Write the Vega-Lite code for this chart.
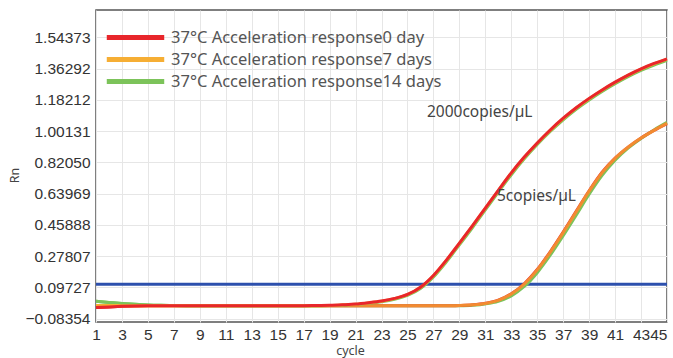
{
  "$schema": "https://vega.github.io/schema/vega-lite/v6.json",
  "width": 571,
  "height": 312,
  "autosize": "none",
  "padding": {"left": 96, "top": 10, "right": 6, "bottom": 36},
  "background": "white",
  "config": {
    "view": {"stroke": "#555555", "strokeWidth": 1.5},
    "font": "Liberation Sans",
    "axis": {"gridColor": "#e6e6e6", "gridWidth": 1, "domain": false, "ticks": false, "labelColor": "#333333", "labelFontSize": 15.5, "labelFont": "Liberation Sans", "titleFont": "Noto Sans", "titleFontWeight": "normal", "titleColor": "#444444", "titleFontSize": 12.5}
  },
  "data": {"values": [
    {"cycle":1,"day":"14 days","conc":"2000","rn":0.016},{"cycle":2,"day":"14 days","conc":"2000","rn":0.010},{"cycle":3,"day":"14 days","conc":"2000","rn":0.004},{"cycle":4,"day":"14 days","conc":"2000","rn":-0.001},{"cycle":5,"day":"14 days","conc":"2000","rn":-0.005},{"cycle":6,"day":"14 days","conc":"2000","rn":-0.007},{"cycle":7,"day":"14 days","conc":"2000","rn":-0.008},{"cycle":8,"day":"14 days","conc":"2000","rn":-0.009},{"cycle":9,"day":"14 days","conc":"2000","rn":-0.010},{"cycle":10,"day":"14 days","conc":"2000","rn":-0.010},{"cycle":11,"day":"14 days","conc":"2000","rn":-0.010},{"cycle":12,"day":"14 days","conc":"2000","rn":-0.010},{"cycle":13,"day":"14 days","conc":"2000","rn":-0.010},{"cycle":14,"day":"14 days","conc":"2000","rn":-0.010},{"cycle":15,"day":"14 days","conc":"2000","rn":-0.010},{"cycle":16,"day":"14 days","conc":"2000","rn":-0.010},{"cycle":17,"day":"14 days","conc":"2000","rn":-0.010},{"cycle":18,"day":"14 days","conc":"2000","rn":-0.009},{"cycle":19,"day":"14 days","conc":"2000","rn":-0.008},{"cycle":20,"day":"14 days","conc":"2000","rn":-0.006},{"cycle":21,"day":"14 days","conc":"2000","rn":-0.002},{"cycle":22,"day":"14 days","conc":"2000","rn":0.005},{"cycle":23,"day":"14 days","conc":"2000","rn":0.014},{"cycle":24,"day":"14 days","conc":"2000","rn":0.028},{"cycle":25,"day":"14 days","conc":"2000","rn":0.050},{"cycle":26,"day":"14 days","conc":"2000","rn":0.090},{"cycle":27,"day":"14 days","conc":"2000","rn":0.157},{"cycle":28,"day":"14 days","conc":"2000","rn":0.245},{"cycle":29,"day":"14 days","conc":"2000","rn":0.343},{"cycle":30,"day":"14 days","conc":"2000","rn":0.442},{"cycle":31,"day":"14 days","conc":"2000","rn":0.545},{"cycle":32,"day":"14 days","conc":"2000","rn":0.648},{"cycle":33,"day":"14 days","conc":"2000","rn":0.749},{"cycle":34,"day":"14 days","conc":"2000","rn":0.841},{"cycle":35,"day":"14 days","conc":"2000","rn":0.924},{"cycle":36,"day":"14 days","conc":"2000","rn":0.999},{"cycle":37,"day":"14 days","conc":"2000","rn":1.067},{"cycle":38,"day":"14 days","conc":"2000","rn":1.128},{"cycle":39,"day":"14 days","conc":"2000","rn":1.182},{"cycle":40,"day":"14 days","conc":"2000","rn":1.231},{"cycle":41,"day":"14 days","conc":"2000","rn":1.276},{"cycle":42,"day":"14 days","conc":"2000","rn":1.317},{"cycle":43,"day":"14 days","conc":"2000","rn":1.353},{"cycle":44,"day":"14 days","conc":"2000","rn":1.384},{"cycle":45,"day":"14 days","conc":"2000","rn":1.411},
    {"cycle":1,"day":"14 days","conc":"5","rn":0.016},{"cycle":2,"day":"14 days","conc":"5","rn":0.010},{"cycle":3,"day":"14 days","conc":"5","rn":0.004},{"cycle":4,"day":"14 days","conc":"5","rn":-0.001},{"cycle":5,"day":"14 days","conc":"5","rn":-0.005},{"cycle":6,"day":"14 days","conc":"5","rn":-0.007},{"cycle":7,"day":"14 days","conc":"5","rn":-0.008},{"cycle":8,"day":"14 days","conc":"5","rn":-0.009},{"cycle":9,"day":"14 days","conc":"5","rn":-0.010},{"cycle":10,"day":"14 days","conc":"5","rn":-0.010},{"cycle":11,"day":"14 days","conc":"5","rn":-0.010},{"cycle":12,"day":"14 days","conc":"5","rn":-0.010},{"cycle":13,"day":"14 days","conc":"5","rn":-0.010},{"cycle":14,"day":"14 days","conc":"5","rn":-0.010},{"cycle":15,"day":"14 days","conc":"5","rn":-0.010},{"cycle":16,"day":"14 days","conc":"5","rn":-0.010},{"cycle":17,"day":"14 days","conc":"5","rn":-0.010},{"cycle":18,"day":"14 days","conc":"5","rn":-0.010},{"cycle":19,"day":"14 days","conc":"5","rn":-0.010},{"cycle":20,"day":"14 days","conc":"5","rn":-0.010},{"cycle":21,"day":"14 days","conc":"5","rn":-0.010},{"cycle":22,"day":"14 days","conc":"5","rn":-0.010},{"cycle":23,"day":"14 days","conc":"5","rn":-0.010},{"cycle":24,"day":"14 days","conc":"5","rn":-0.010},{"cycle":25,"day":"14 days","conc":"5","rn":-0.010},{"cycle":26,"day":"14 days","conc":"5","rn":-0.010},{"cycle":27,"day":"14 days","conc":"5","rn":-0.010},{"cycle":28,"day":"14 days","conc":"5","rn":-0.010},{"cycle":29,"day":"14 days","conc":"5","rn":-0.009},{"cycle":30,"day":"14 days","conc":"5","rn":-0.006},{"cycle":31,"day":"14 days","conc":"5","rn":0.001},{"cycle":32,"day":"14 days","conc":"5","rn":0.016},{"cycle":33,"day":"14 days","conc":"5","rn":0.048},{"cycle":34,"day":"14 days","conc":"5","rn":0.102},{"cycle":35,"day":"14 days","conc":"5","rn":0.182},{"cycle":36,"day":"14 days","conc":"5","rn":0.283},{"cycle":37,"day":"14 days","conc":"5","rn":0.396},{"cycle":38,"day":"14 days","conc":"5","rn":0.515},{"cycle":39,"day":"14 days","conc":"5","rn":0.636},{"cycle":40,"day":"14 days","conc":"5","rn":0.745},{"cycle":41,"day":"14 days","conc":"5","rn":0.833},{"cycle":42,"day":"14 days","conc":"5","rn":0.903},{"cycle":43,"day":"14 days","conc":"5","rn":0.959},{"cycle":44,"day":"14 days","conc":"5","rn":1.008},{"cycle":45,"day":"14 days","conc":"5","rn":1.052},
    {"cycle":1,"day":"0 day","conc":"5","rn":-0.020},{"cycle":2,"day":"0 day","conc":"5","rn":-0.016},{"cycle":3,"day":"0 day","conc":"5","rn":-0.013},{"cycle":4,"day":"0 day","conc":"5","rn":-0.011},{"cycle":5,"day":"0 day","conc":"5","rn":-0.010},{"cycle":6,"day":"0 day","conc":"5","rn":-0.010},{"cycle":7,"day":"0 day","conc":"5","rn":-0.010},{"cycle":8,"day":"0 day","conc":"5","rn":-0.010},{"cycle":9,"day":"0 day","conc":"5","rn":-0.010},{"cycle":10,"day":"0 day","conc":"5","rn":-0.010},{"cycle":11,"day":"0 day","conc":"5","rn":-0.010},{"cycle":12,"day":"0 day","conc":"5","rn":-0.010},{"cycle":13,"day":"0 day","conc":"5","rn":-0.010},{"cycle":14,"day":"0 day","conc":"5","rn":-0.010},{"cycle":15,"day":"0 day","conc":"5","rn":-0.010},{"cycle":16,"day":"0 day","conc":"5","rn":-0.010},{"cycle":17,"day":"0 day","conc":"5","rn":-0.010},{"cycle":18,"day":"0 day","conc":"5","rn":-0.010},{"cycle":19,"day":"0 day","conc":"5","rn":-0.010},{"cycle":20,"day":"0 day","conc":"5","rn":-0.010},{"cycle":21,"day":"0 day","conc":"5","rn":-0.010},{"cycle":22,"day":"0 day","conc":"5","rn":-0.010},{"cycle":23,"day":"0 day","conc":"5","rn":-0.010},{"cycle":24,"day":"0 day","conc":"5","rn":-0.010},{"cycle":25,"day":"0 day","conc":"5","rn":-0.010},{"cycle":26,"day":"0 day","conc":"5","rn":-0.010},{"cycle":27,"day":"0 day","conc":"5","rn":-0.010},{"cycle":28,"day":"0 day","conc":"5","rn":-0.010},{"cycle":29,"day":"0 day","conc":"5","rn":-0.008},{"cycle":30,"day":"0 day","conc":"5","rn":-0.004},{"cycle":31,"day":"0 day","conc":"5","rn":0.005},{"cycle":32,"day":"0 day","conc":"5","rn":0.023},{"cycle":33,"day":"0 day","conc":"5","rn":0.060},{"cycle":34,"day":"0 day","conc":"5","rn":0.118},{"cycle":35,"day":"0 day","conc":"5","rn":0.200},{"cycle":36,"day":"0 day","conc":"5","rn":0.303},{"cycle":37,"day":"0 day","conc":"5","rn":0.417},{"cycle":38,"day":"0 day","conc":"5","rn":0.537},{"cycle":39,"day":"0 day","conc":"5","rn":0.656},{"cycle":40,"day":"0 day","conc":"5","rn":0.763},{"cycle":41,"day":"0 day","conc":"5","rn":0.845},{"cycle":42,"day":"0 day","conc":"5","rn":0.909},{"cycle":43,"day":"0 day","conc":"5","rn":0.962},{"cycle":44,"day":"0 day","conc":"5","rn":1.006},{"cycle":45,"day":"0 day","conc":"5","rn":1.045},
    {"cycle":1,"day":"7 days","conc":"2000","rn":-0.008},{"cycle":2,"day":"7 days","conc":"2000","rn":-0.008},{"cycle":3,"day":"7 days","conc":"2000","rn":-0.009},{"cycle":4,"day":"7 days","conc":"2000","rn":-0.010},{"cycle":5,"day":"7 days","conc":"2000","rn":-0.010},{"cycle":6,"day":"7 days","conc":"2000","rn":-0.010},{"cycle":7,"day":"7 days","conc":"2000","rn":-0.010},{"cycle":8,"day":"7 days","conc":"2000","rn":-0.010},{"cycle":9,"day":"7 days","conc":"2000","rn":-0.010},{"cycle":10,"day":"7 days","conc":"2000","rn":-0.010},{"cycle":11,"day":"7 days","conc":"2000","rn":-0.010},{"cycle":12,"day":"7 days","conc":"2000","rn":-0.010},{"cycle":13,"day":"7 days","conc":"2000","rn":-0.010},{"cycle":14,"day":"7 days","conc":"2000","rn":-0.010},{"cycle":15,"day":"7 days","conc":"2000","rn":-0.010},{"cycle":16,"day":"7 days","conc":"2000","rn":-0.010},{"cycle":17,"day":"7 days","conc":"2000","rn":-0.010},{"cycle":18,"day":"7 days","conc":"2000","rn":-0.009},{"cycle":19,"day":"7 days","conc":"2000","rn":-0.008},{"cycle":20,"day":"7 days","conc":"2000","rn":-0.005},{"cycle":21,"day":"7 days","conc":"2000","rn":-0.001},{"cycle":22,"day":"7 days","conc":"2000","rn":0.007},{"cycle":23,"day":"7 days","conc":"2000","rn":0.017},{"cycle":24,"day":"7 days","conc":"2000","rn":0.032},{"cycle":25,"day":"7 days","conc":"2000","rn":0.055},{"cycle":26,"day":"7 days","conc":"2000","rn":0.096},{"cycle":27,"day":"7 days","conc":"2000","rn":0.164},{"cycle":28,"day":"7 days","conc":"2000","rn":0.253},{"cycle":29,"day":"7 days","conc":"2000","rn":0.351},{"cycle":30,"day":"7 days","conc":"2000","rn":0.451},{"cycle":31,"day":"7 days","conc":"2000","rn":0.554},{"cycle":32,"day":"7 days","conc":"2000","rn":0.657},{"cycle":33,"day":"7 days","conc":"2000","rn":0.758},{"cycle":34,"day":"7 days","conc":"2000","rn":0.849},{"cycle":35,"day":"7 days","conc":"2000","rn":0.931},{"cycle":36,"day":"7 days","conc":"2000","rn":1.006},{"cycle":37,"day":"7 days","conc":"2000","rn":1.074},{"cycle":38,"day":"7 days","conc":"2000","rn":1.135},{"cycle":39,"day":"7 days","conc":"2000","rn":1.189},{"cycle":40,"day":"7 days","conc":"2000","rn":1.238},{"cycle":41,"day":"7 days","conc":"2000","rn":1.283},{"cycle":42,"day":"7 days","conc":"2000","rn":1.324},{"cycle":43,"day":"7 days","conc":"2000","rn":1.360},{"cycle":44,"day":"7 days","conc":"2000","rn":1.391},{"cycle":45,"day":"7 days","conc":"2000","rn":1.418},
    {"cycle":1,"day":"7 days","conc":"5","rn":-0.008},{"cycle":2,"day":"7 days","conc":"5","rn":-0.008},{"cycle":3,"day":"7 days","conc":"5","rn":-0.009},{"cycle":4,"day":"7 days","conc":"5","rn":-0.010},{"cycle":5,"day":"7 days","conc":"5","rn":-0.010},{"cycle":6,"day":"7 days","conc":"5","rn":-0.010},{"cycle":7,"day":"7 days","conc":"5","rn":-0.010},{"cycle":8,"day":"7 days","conc":"5","rn":-0.010},{"cycle":9,"day":"7 days","conc":"5","rn":-0.010},{"cycle":10,"day":"7 days","conc":"5","rn":-0.010},{"cycle":11,"day":"7 days","conc":"5","rn":-0.010},{"cycle":12,"day":"7 days","conc":"5","rn":-0.010},{"cycle":13,"day":"7 days","conc":"5","rn":-0.010},{"cycle":14,"day":"7 days","conc":"5","rn":-0.010},{"cycle":15,"day":"7 days","conc":"5","rn":-0.010},{"cycle":16,"day":"7 days","conc":"5","rn":-0.010},{"cycle":17,"day":"7 days","conc":"5","rn":-0.010},{"cycle":18,"day":"7 days","conc":"5","rn":-0.010},{"cycle":19,"day":"7 days","conc":"5","rn":-0.010},{"cycle":20,"day":"7 days","conc":"5","rn":-0.010},{"cycle":21,"day":"7 days","conc":"5","rn":-0.010},{"cycle":22,"day":"7 days","conc":"5","rn":-0.010},{"cycle":23,"day":"7 days","conc":"5","rn":-0.010},{"cycle":24,"day":"7 days","conc":"5","rn":-0.010},{"cycle":25,"day":"7 days","conc":"5","rn":-0.010},{"cycle":26,"day":"7 days","conc":"5","rn":-0.010},{"cycle":27,"day":"7 days","conc":"5","rn":-0.010},{"cycle":28,"day":"7 days","conc":"5","rn":-0.010},{"cycle":29,"day":"7 days","conc":"5","rn":-0.008},{"cycle":30,"day":"7 days","conc":"5","rn":-0.004},{"cycle":31,"day":"7 days","conc":"5","rn":0.004},{"cycle":32,"day":"7 days","conc":"5","rn":0.022},{"cycle":33,"day":"7 days","conc":"5","rn":0.058},{"cycle":34,"day":"7 days","conc":"5","rn":0.116},{"cycle":35,"day":"7 days","conc":"5","rn":0.198},{"cycle":36,"day":"7 days","conc":"5","rn":0.300},{"cycle":37,"day":"7 days","conc":"5","rn":0.414},{"cycle":38,"day":"7 days","conc":"5","rn":0.534},{"cycle":39,"day":"7 days","conc":"5","rn":0.654},{"cycle":40,"day":"7 days","conc":"5","rn":0.761},{"cycle":41,"day":"7 days","conc":"5","rn":0.844},{"cycle":42,"day":"7 days","conc":"5","rn":0.908},{"cycle":43,"day":"7 days","conc":"5","rn":0.961},{"cycle":44,"day":"7 days","conc":"5","rn":1.006},{"cycle":45,"day":"7 days","conc":"5","rn":1.046},
    {"cycle":1,"day":"0 day","conc":"2000","rn":-0.020},{"cycle":2,"day":"0 day","conc":"2000","rn":-0.016},{"cycle":3,"day":"0 day","conc":"2000","rn":-0.013},{"cycle":4,"day":"0 day","conc":"2000","rn":-0.011},{"cycle":5,"day":"0 day","conc":"2000","rn":-0.010},{"cycle":6,"day":"0 day","conc":"2000","rn":-0.010},{"cycle":7,"day":"0 day","conc":"2000","rn":-0.010},{"cycle":8,"day":"0 day","conc":"2000","rn":-0.010},{"cycle":9,"day":"0 day","conc":"2000","rn":-0.010},{"cycle":10,"day":"0 day","conc":"2000","rn":-0.010},{"cycle":11,"day":"0 day","conc":"2000","rn":-0.010},{"cycle":12,"day":"0 day","conc":"2000","rn":-0.010},{"cycle":13,"day":"0 day","conc":"2000","rn":-0.010},{"cycle":14,"day":"0 day","conc":"2000","rn":-0.010},{"cycle":15,"day":"0 day","conc":"2000","rn":-0.010},{"cycle":16,"day":"0 day","conc":"2000","rn":-0.009},{"cycle":17,"day":"0 day","conc":"2000","rn":-0.009},{"cycle":18,"day":"0 day","conc":"2000","rn":-0.008},{"cycle":19,"day":"0 day","conc":"2000","rn":-0.007},{"cycle":20,"day":"0 day","conc":"2000","rn":-0.004},{"cycle":21,"day":"0 day","conc":"2000","rn":0.000},{"cycle":22,"day":"0 day","conc":"2000","rn":0.008},{"cycle":23,"day":"0 day","conc":"2000","rn":0.018},{"cycle":24,"day":"0 day","conc":"2000","rn":0.033},{"cycle":25,"day":"0 day","conc":"2000","rn":0.056},{"cycle":26,"day":"0 day","conc":"2000","rn":0.098},{"cycle":27,"day":"0 day","conc":"2000","rn":0.166},{"cycle":28,"day":"0 day","conc":"2000","rn":0.255},{"cycle":29,"day":"0 day","conc":"2000","rn":0.353},{"cycle":30,"day":"0 day","conc":"2000","rn":0.453},{"cycle":31,"day":"0 day","conc":"2000","rn":0.556},{"cycle":32,"day":"0 day","conc":"2000","rn":0.659},{"cycle":33,"day":"0 day","conc":"2000","rn":0.760},{"cycle":34,"day":"0 day","conc":"2000","rn":0.851},{"cycle":35,"day":"0 day","conc":"2000","rn":0.933},{"cycle":36,"day":"0 day","conc":"2000","rn":1.008},{"cycle":37,"day":"0 day","conc":"2000","rn":1.076},{"cycle":38,"day":"0 day","conc":"2000","rn":1.137},{"cycle":39,"day":"0 day","conc":"2000","rn":1.191},{"cycle":40,"day":"0 day","conc":"2000","rn":1.240},{"cycle":41,"day":"0 day","conc":"2000","rn":1.285},{"cycle":42,"day":"0 day","conc":"2000","rn":1.326},{"cycle":43,"day":"0 day","conc":"2000","rn":1.362},{"cycle":44,"day":"0 day","conc":"2000","rn":1.393},{"cycle":45,"day":"0 day","conc":"2000","rn":1.420}
  ]},
  "layer": [
    {
      "data": {"values": [{"threshold": 0.115}]},
      "mark": {"type": "rule", "color": "#2d50ad", "strokeWidth": 3},
      "encoding": {"y": {"field": "threshold", "type": "quantitative"}}
    },
    {
      "transform": [{"filter": "datum.conc === '5'"}],
      "mark": {"type": "line", "strokeWidth": 3, "interpolate": "monotone"},
      "encoding": {
        "x": {"field": "cycle", "type": "quantitative", "scale": {"domain": [1, 45], "nice": false, "zero": false},
              "axis": {"values": [1,3,5,7,9,11,13,15,17,19,21,23,25,27,29,31,33,35,37,39,41,43,45], "tickCount": 100, "format": "d", "title": "cycle", "labelPadding": 5, "titlePadding": 2, "titleX": 254, "labelFlush": false, "labelOverlap": false, "labelBound": false, "labelAlign": {"expr": "datum.value == 45 ? 'right' : 'center'"}, "labelDx": {"expr": "datum.value == 45 ? 5 : 0"}}},
        "y": {"field": "rn", "type": "quantitative", "scale": {"domain": [-0.1035, 1.7025], "nice": false, "zero": false},
              "axis": {"values": [-0.08354, 0.09727, 0.27807, 0.45888, 0.63969, 0.8205, 1.00131, 1.18212, 1.36292, 1.54373], "tickCount": 100, "format": ".5f", "title": "Rn", "labelPadding": 6, "titlePadding": 3, "titleY": 165, "labelOverlap": false, "labelBound": false}},
        "color": {"field": "day", "type": "nominal", "scale": {"domain": ["0 day", "7 days", "14 days"], "range": ["#e8262b", "#f6ae34", "#7cc35a"]},
                  "legend": {"orient": "none", "legendX": 31, "legendY": 19, "title": null, "padding": 0, "symbolType": "M-5,0H5", "symbolSize": 132, "symbolStrokeWidth": 5, "labelFont": "Noto Sans", "labelFontSize": 16.5, "labelColor": "#555555", "labelOffset": 27, "labelLimit": 400, "rowPadding": 1, "labelExpr": "'37°C Acceleration response' + datum.label"}},
        "strokeOpacity": {"condition": {"test": "datum.day === '7 days'", "value": 0.75}, "value": 1}
      }
    },
    {
      "transform": [{"filter": "datum.conc === '2000'"}],
      "mark": {"type": "line", "strokeWidth": 3, "interpolate": "monotone"},
      "encoding": {
        "x": {"field": "cycle", "type": "quantitative"},
        "y": {"field": "rn", "type": "quantitative"},
        "color": {"field": "day", "type": "nominal"}
      }
    },
    {
      "data": {"values": [{"cycle": 26.5, "rn": 1.111, "label": "2000copies/µL"}, {"cycle": 31.9, "rn": 0.625, "label": "5copies/µL"}]},
      "mark": {"type": "text", "align": "left", "baseline": "middle", "font": "Noto Sans", "fontSize": 15.5, "color": "#444444"},
      "encoding": {"x": {"field": "cycle", "type": "quantitative"}, "y": {"field": "rn", "type": "quantitative"}, "text": {"field": "label"}}
    }
  ]
}
